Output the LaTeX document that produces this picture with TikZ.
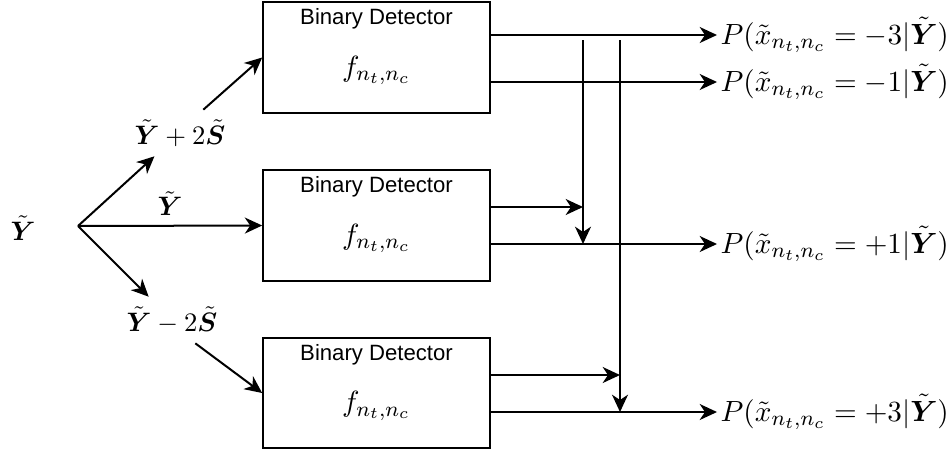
\documentclass[tikz,border=0pt]{standalone}
\usepackage{amsmath}
\usepackage{bm}
\usepackage[no-math]{fontspec}
\newfontfamily\detfont{Liberation Sans}
\usetikzlibrary{arrows.meta,calc}

\begin{document}
\begin{tikzpicture}[
        x=0.375pt, y=-0.375pt,
        detector/.style={draw,minimum width=85pt,minimum height=41.6pt,inner sep=0pt},
        dettext/.style={font=\detfont\fontsize{8.3}{10}\selectfont,inner sep=0pt},
        prob/.style={anchor=west,inner sep=1pt,font=\fontsize{10.95}{13}\selectfont},
        every path/.append style={line width=0.75pt},
        >={Stealth[length=6.5pt,width=6pt,inset=2pt]}
    ]
        \useasboundingbox (0,0) rectangle (951,455);

        % detectors
        \foreach \i/\y in {1/57.5,2/225.5,3/393} {
            \node [detector] (det\i) at (376.5,\y) {};
            \node [dettext] (title\i) at ($(det\i.north)+(0,18)$) {Binary Detector};
            \node [font=\fontsize{10.95}{13}\selectfont] (f\i) at ($(det\i.center)+(0,13)$) {$f_{n_t,n_c}$};
        }

        % inputs
        \node (y) at (23,228) {$\tilde{\bm{Y}}$};
        \coordinate (split) at (78,226);
        \node (yp) at (180,133) {$\tilde{\bm{Y}}+2\tilde{\bm{S}}$};
        \node (ym) at (172,320) {$\tilde{\bm{Y}}-2\tilde{\bm{S}}$};

        \draw [->] (split) -- (yp);
        \draw [->] (yp.45) -- (det1.west);
        \draw [->] (split) -- node[above]{$\tilde{\bm{Y}}$} (det2.west);
        \draw [->] (split) -- (ym);
        \draw [->] (ym.-45) -- (det3.west);

        % outputs
        \node [prob] (pm3) at (717,35)  {$P(\tilde{x}_{n_t,n_c}=-3|\tilde{\bm{Y}})$};
        \node [prob] (pm1) at (717,82)  {$P(\tilde{x}_{n_t,n_c}=-1|\tilde{\bm{Y}})$};
        \node [prob] (pp1) at (717,244) {$P(\tilde{x}_{n_t,n_c}=+1|\tilde{\bm{Y}})$};
        \node [prob] (pp3) at (717,412) {$P(\tilde{x}_{n_t,n_c}=+3|\tilde{\bm{Y}})$};

        \draw [->] (det1.east |- pm3.west) -- (pm3.west);
        \draw [->] (det1.east |- pm1.west) -- (pm1.west);
        \draw [->] (det2.east |- pp1.west) -- (pp1.west);
        \draw [->] (det3.east |- pp3.west) -- (pp3.west);

        % merging lines
        \coordinate (j1) at (583,40);
        \coordinate (j2) at (620,40);
        \draw [->] (j1) -- (j1 |- pp1.west);
        \draw [->] (j2) -- (j2 |- pp3.west);
        \draw [->] (det2.east |- 0,207) -- (j1 |- 0,207);
        \draw [->] (det3.east |- 0,375) -- (j2 |- 0,375);
    \end{tikzpicture}
\end{document}
